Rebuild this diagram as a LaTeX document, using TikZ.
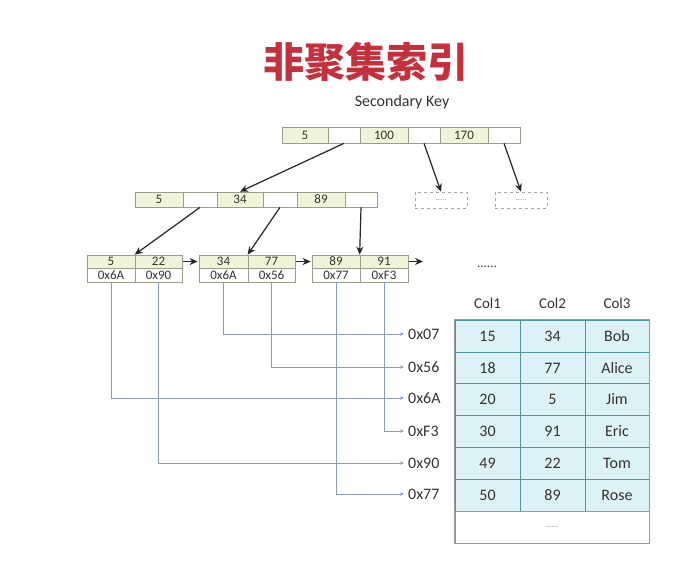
\documentclass[tikz,border=0pt]{standalone}
\usepackage{fontspec}
\setmainfont{Carlito}
\newfontfamily\cjk{Noto Sans CJK SC}
\usetikzlibrary{arrows.meta}
\definecolor{titlered}{HTML}{C4303C}
\definecolor{cellborder}{HTML}{9A9F8C}
\definecolor{greenfill}{HTML}{EFF4D9}
\definecolor{ptrline}{HTML}{8E9CB4}
\definecolor{tabfill}{HTML}{DDF2F6}
\definecolor{tabborder}{HTML}{4E959E}
\definecolor{txt}{HTML}{333333}
\begin{document}
\begin{tikzpicture}[x=1pt,y=-1pt,
  cellbox/.style={draw=cellborder, line width=0.7pt, inner sep=0pt, text=txt, font=\fontsize{13}{13}\selectfont},
  gcell/.style={cellbox, fill=greenfill},
  ecell/.style={cellbox, fill=white},
  dbox/.style={draw=gray!70, dashed, line width=0.6pt, inner sep=0pt, minimum width=52pt, minimum height=16pt, text=gray, font=\fontsize{7}{7}\selectfont},
  treearrow/.style={-{Stealth[length=8pt,width=7pt]}, line width=1.2pt, draw=black!85},
  ptr/.style={-{Stealth[length=4pt,width=3.5pt]}, line width=0.8pt, draw=ptrline},
  ptrlabel/.style={anchor=west, inner sep=0pt, text=txt, font=\fontsize{16}{16}\selectfont},
  tcell/.style={draw=tabborder, line width=0.9pt, fill=tabfill, inner sep=0pt, minimum height=32pt, text=txt, font=\fontsize{16}{16}\selectfont},
  thead/.style={inner sep=0pt, text=txt, font=\fontsize{15}{15}\selectfont}
]
\useasboundingbox[fill=white] (0,0) rectangle (680,565);

% title
\node[text=titlered, font=\cjk\bfseries\fontsize{41}{41}\selectfont, inner sep=0pt] (title) at (366,62) {非聚集索引};
\node[text=txt, font=\fontsize{16}{16}\selectfont, inner sep=0pt] (skey) at (402,102) {Secondary Key};

% root
\node[gcell, minimum width=46pt, minimum height=16pt] (r1) at (305,135) {5};
\node[ecell, minimum width=32pt, minimum height=16pt] (r2) at (344,135) {};
\node[gcell, minimum width=48pt, minimum height=16pt] (r3) at (384,135) {100};
\node[ecell, minimum width=32pt, minimum height=16pt] (r4) at (424,135) {};
\node[gcell, minimum width=48pt, minimum height=16pt] (r5) at (464,135) {170};
\node[ecell, minimum width=32pt, minimum height=16pt] (r6) at (504,135) {};

% level 2
\node[gcell, minimum width=48pt, minimum height=15pt] (l1) at (159,199.5) {5};
\node[ecell, minimum width=34pt, minimum height=15pt] (l2) at (200,199.5) {};
\node[gcell, minimum width=46pt, minimum height=15pt] (l3) at (240,199.5) {34};
\node[ecell, minimum width=34pt, minimum height=15pt] (l4) at (280,199.5) {};
\node[gcell, minimum width=48pt, minimum height=15pt] (l5) at (321,199.5) {89};
\node[ecell, minimum width=32pt, minimum height=15pt] (l6) at (361,199.5) {};

% dashed boxes
\node[dbox] (d1) at (441,200) {......};
\node[dbox] (d2) at (521,200) {......};

% leaves
\node[gcell, minimum width=48pt, minimum height=13pt] (a1) at (111,261.5) {5};
\node[gcell, minimum width=47pt, minimum height=13pt] (a2) at (158.5,261.5) {22};
\node[ecell, minimum width=48pt, minimum height=14pt] (a3) at (111,275) {0x6A};
\node[ecell, minimum width=47pt, minimum height=14pt] (a4) at (158.5,275) {0x90};

\node[gcell, minimum width=49pt, minimum height=13pt] (b1) at (223.5,261.5) {34};
\node[gcell, minimum width=47pt, minimum height=13pt] (b2) at (271.5,261.5) {77};
\node[ecell, minimum width=49pt, minimum height=14pt] (b3) at (223.5,275) {0x6A};
\node[ecell, minimum width=47pt, minimum height=14pt] (b4) at (271.5,275) {0x56};

\node[gcell, minimum width=48pt, minimum height=13pt] (c1) at (336,261.5) {89};
\node[gcell, minimum width=48pt, minimum height=13pt] (c2) at (384,261.5) {91};
\node[ecell, minimum width=48pt, minimum height=14pt] (c3) at (336,275) {0x77};
\node[ecell, minimum width=48pt, minimum height=14pt] (c4) at (384,275) {0xF3};

\coordinate (cend) at (423,261.5);
\node[text=txt, font=\fontsize{13}{13}\selectfont, inner sep=0pt] (more) at (487,267) {......};

% tree arrows
\draw[treearrow] (r2.south) -- (l3.north);
\draw[treearrow] (r4.south) -- (d1.north);
\draw[treearrow] (r6.south) -- (d2.north);
\draw[treearrow] (l2.south) -- (a2.north west);
\draw[treearrow] (l4.south) -- (b2.north west);
\draw[treearrow] (l6.south) -- (c2.north west);
\draw[treearrow, shorten <=1pt, shorten >=1pt] (a2.east) -- (b1.west);
\draw[treearrow, shorten <=1pt, shorten >=1pt] (b2.east) -- (c1.west);
\draw[treearrow, shorten <=1pt] (c2.east) -- (cend);

% pointer labels
\node[ptrlabel] (p07) at (408,334) {0x07};
\node[ptrlabel] (p56) at (408,367) {0x56};
\node[ptrlabel] (p6A) at (408,398) {0x6A};
\node[ptrlabel] (pF3) at (408,431) {0xF3};
\node[ptrlabel] (p90) at (408,463) {0x90};
\node[ptrlabel] (p77) at (408,494) {0x77};

% pointer lines
\draw[ptr, shorten >=4pt] (b3.south) |- (p07.west);
\draw[ptr, shorten >=4pt] (b4.south) |- (p56.west);
\draw[ptr, shorten >=4pt] (a3.south) |- (p6A.west);
\draw[ptr, shorten >=4pt] (c4.south) |- (pF3.west);
\draw[ptr, shorten >=4pt] (a4.south) |- (p90.west);
\draw[ptr, shorten >=4pt] (c3.south) |- (p77.west);

% table headers
\node[thead] (h1) at (487.5,303) {Col1};
\node[thead] (h2) at (552.5,303) {Col2};
\node[thead] (h3) at (617,303) {Col3};

% table rows
\foreach \i/\a/\b/\c/\y in {1/15/34/Bob/336, 2/18/77/Alice/368, 3/20/5/Jim/399.5, 4/30/91/Eric/431, 5/49/22/Tom/463, 6/50/89/Rose/495}{
  \node[tcell, minimum width=65pt] (t\i a) at (487.5,\y) {\a};
  \node[tcell, minimum width=65pt] (t\i b) at (552.5,\y) {\b};
  \node[tcell, minimum width=64pt] (t\i c) at (617,\y) {\c};
}
\node[draw=gray!80, line width=0.9pt, fill=white, inner sep=0pt, minimum width=194pt, minimum height=32pt, text=gray, font=\fontsize{8}{8}\selectfont] (tlast) at (552,527) {......};
\draw[draw=gray!80, line width=1pt] (t1a.north west) rectangle (tlast.south east);
\end{tikzpicture}
\end{document}
